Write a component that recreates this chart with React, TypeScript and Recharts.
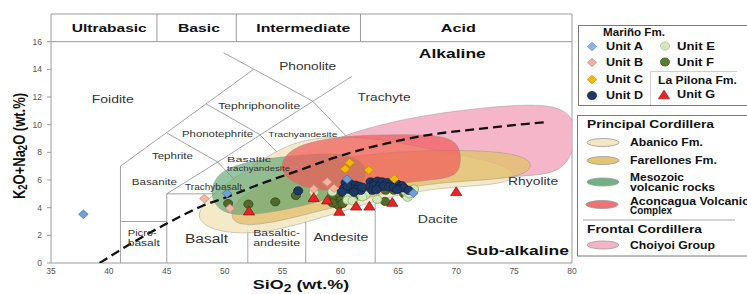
import React from 'react';
import { ComposedChart, XAxis, YAxis, Scatter, ReferenceLine, ReferenceArea } from 'recharts';

const FONT = '"Liberation Sans", Arial, Helvetica, sans-serif';

// ---------- axes ----------
const X_TICKS = [35, 40, 45, 50, 55, 60, 65, 70, 75, 80];
const Y_TICKS = [0, 2, 4, 6, 8, 10, 12, 14, 16];

// ---------- samples (SiO2, K2O+Na2O) ----------
const unitA = [[37.8, 3.52], [50.2, 5.03], [60.58, 6.06], [66.3, 5.05]];
const unitB = [[48.25, 4.66], [50.45, 3.95], [57.7, 5.35], [58.85, 5.85], [59.45, 5.4]];
const unitC = [[60.8, 7.25], [60.4, 6.8], [62.45, 6.72], [64.65, 6.08]];
const unitD = [
  [56.35, 5.22], [60.45, 5.8], [60.87, 5.72], [61.3, 5.63], [61.6, 5.55], [60.3, 5.4], [60.75, 5.32],
  [61.05, 5.35], [61.45, 5.3], [61.75, 5.25], [60.15, 5.15], [61.15, 5.12], [60.6, 5.55], [61.9, 5.48],
  [62.6, 5.87], [62.95, 5.8], [63.2, 5.92], [63.6, 5.87], [64.05, 5.82], [64.48, 5.77], [64.9, 5.7],
  [65.3, 5.6], [62.6, 5.5], [62.9, 5.58], [63.35, 5.5], [63.75, 5.55], [64.2, 5.5], [64.6, 5.45],
  [65.05, 5.4], [65.5, 5.42], [65.9, 5.25], [62.75, 5.25], [64.9, 5.3], [63.1, 5.3],
];
const unitE = [
  [57.7, 5.12], [59.3, 5.15], [60.3, 5.25], [60.7, 4.92], [61.75, 5.02], [62.15, 4.9], [60.6, 4.55],
  [61.05, 4.5], [61.9, 4.78], [63.18, 4.6], [65.65, 5.15], [66.05, 5.28], [66.35, 5.35], [65.8, 4.75], [65.95, 5.0],
];
const unitF = [
  [50.3, 4.3], [52.05, 4.25], [54.37, 4.42], [56.15, 4.88], [59.3, 5.0], [59.45, 4.78], [59.85, 5.02],
  [60.3, 5.12], [60.72, 4.9], [61.16, 4.78], [60.43, 4.66], [60.0, 4.52], [59.57, 4.3], [59.85, 4.15],
  [59.3, 4.35], [60.2, 4.3], [62.6, 5.33], [63.9, 5.26], [64.62, 5.26], [65.5, 5.0], [63.85, 4.45],
];
const unitG = [[52.1, 3.75], [57.69, 4.72], [58.85, 4.54], [59.9, 3.72], [61.35, 4.1], [62.5, 4.1], [64.48, 4.37], [70.0, 5.15]];

// ---------- compositional fields (outline control points) ----------
const choiyoi = [[58.5, 8.6], [61.5, 9.6], [67, 10.7], [73, 11.3], [78, 11.55], [80.3, 10.7], [80.3, 8.2], [79, 6.5], [76, 6.3], [70, 5.9], [63.5, 5.5], [57, 6.0], [55.5, 7.3]];
const abanico = [[47.2, 3.3], [48.9, 5.0], [51.3, 6.4], [54, 7.9], [56.5, 8.9], [60, 9.2], [64, 8.9], [68, 8.2], [73, 7.4], [75.3, 6.6], [74.6, 5.7], [69.5, 5.5], [65, 5.0], [60.8, 3.9], [56.5, 2.8], [53, 2.1], [49.2, 2.2]];
const farellones = [[50.3, 2.8], [50.8, 4.6], [53.8, 5.9], [58, 7.3], [63.5, 8.0], [69.5, 8.2], [75.3, 8.0], [76.9, 7.1], [75.5, 6.1], [69.5, 5.9], [65, 5.4], [60.8, 4.3], [56.5, 3.4], [53, 2.7]];
const mesozoic = [[48.6, 5.2], [49.6, 6.8], [53, 7.5], [56.5, 7.8], [60, 8.0], [62.3, 7.3], [62.2, 5.6], [59.3, 4.7], [55.7, 3.9], [52, 3.4], [49.5, 3.6]];
const aconcagua = [[54.8, 7.3], [56, 8.5], [60, 9.2], [65, 9.3], [69, 9.25], [70.4, 8.5], [70.4, 6.8], [69.6, 6.1], [66, 5.9], [61.5, 5.2], [57.5, 5.2], [55, 6.2]];

// alkaline / sub-alkaline divide
const alkalineDivide = [[39.2, 0], [42, 1.45], [45, 2.85], [48, 4.1], [50.3, 4.8], [53.2, 5.75], [56.1, 6.6], [60, 7.75], [63, 8.45], [67.2, 9.2], [72, 9.7], [77.9, 10.2]];

// TAS boundaries
const tasSegments = [
  [[41, 0], [41, 7]], [[41, 7], [52.5, 14]], [[49.9, 15.2], [57.6, 11.7]], [[41, 3], [45, 3]],
  [[45, 0], [45, 5]], [[45, 5], [49.4, 7.3]], [[49.4, 7.3], [61, 13.5]], [[45, 9.4], [49.4, 7.3]],
  [[49.4, 7.3], [52, 5]], [[48.4, 11.5], [53, 9.3]], [[53, 9.3], [57, 5.9]], [[57.6, 11.7], [63, 7]],
  [[45, 5], [52, 5]], [[52, 5], [57, 5.9]], [[57, 5.9], [63, 7]], [[63, 7], [69, 8]],
  [[52, 0], [52, 5]], [[57, 0], [57, 5.9]], [[63, 0], [63, 7]],
];
const headerDividers = [44.15, 51.0, 61.73];

// ---------- text annotations ----------
const headerNames = [
  { x: 40.03, y: 17.0, text: 'Ultrabasic' }, { x: 47.78, y: 17.0, text: 'Basic' },
  { x: 56.79, y: 17.0, text: 'Intermediate' }, { x: 70.18, y: 17.0, text: 'Acid' },
];
const fieldNames = [
  { x: 40.33, y: 11.85, text: 'Foidite' }, { x: 57.17, y: 14.24, text: 'Phonolite' },
  { x: 52.98, y: 11.42, text: 'Tephriphonolite' }, { x: 63.77, y: 12.0, text: 'Trachyte' },
  { x: 69.66, y: 15.11, text: 'Alkaline' }, { x: 49.38, y: 9.39, text: 'Phonotephrite' },
  { x: 56.75, y: 9.28, text: 'Trachyandesite' }, { x: 45.49, y: 7.76, text: 'Tephrite' },
  { x: 50.21, y: 7.48, text: 'Basaltic' }, { x: 50.21, y: 6.84, text: 'trachyandesite' },
  { x: 43.93, y: 5.92, text: 'Basanite' }, { x: 49.04, y: 5.48, text: 'Trachybasalt' },
  { x: 41.63, y: 2.18, text: 'Picro-' }, { x: 41.63, y: 1.48, text: 'basalt' },
  { x: 48.43, y: 1.72, text: 'Basalt' }, { x: 52.46, y: 2.18, text: 'Basaltic-' },
  { x: 52.46, y: 1.48, text: 'andesite' }, { x: 60.04, y: 1.86, text: 'Andesite' },
  { x: 68.41, y: 3.16, text: 'Dacite' }, { x: 76.64, y: 5.92, text: 'Rhyolite' },
  { x: 75.29, y: 0.85, text: 'Sub-alkaline' },
];

const LABEL_STYLE: Record<string, { size: number; len: number; bold?: boolean; start?: boolean }> = {
  Ultrabasic: { size: 11.5, len: 75, bold: true }, Basic: { size: 11.5, len: 42, bold: true },
  Intermediate: { size: 11.5, len: 94, bold: true }, Acid: { size: 11.5, len: 35, bold: true },
  Foidite: { size: 10, len: 42 }, Phonolite: { size: 10, len: 57 }, Tephriphonolite: { size: 9.5, len: 82 },
  Trachyte: { size: 10, len: 53 }, Alkaline: { size: 12.5, len: 67, bold: true },
  Phonotephrite: { size: 9.5, len: 71 }, Trachyandesite: { size: 8, len: 69 }, Tephrite: { size: 9.5, len: 41 },
  Basaltic: { size: 8, len: 44, start: true }, trachyandesite: { size: 8, len: 63, start: true },
  Basanite: { size: 9.5, len: 45 }, Trachybasalt: { size: 8.5, len: 57 },
  'Picro-': { size: 8.5, len: 29, start: true }, basalt: { size: 8.5, len: 32, start: true },
  Basalt: { size: 12, len: 43 }, 'Basaltic-': { size: 9, len: 47, start: true },
  andesite: { size: 9, len: 47, start: true }, Andesite: { size: 10, len: 55 }, Dacite: { size: 10, len: 40 },
  Rhyolite: { size: 10, len: 50 }, 'Sub-alkaline': { size: 12.5, len: 103, bold: true },
};

const pts = (a: number[][]) => a.map(([x, y]) => ({ x, y }));

const Hidden = () => <g />;

const TextShape = (p: any) => {
  const t = p.payload.text as string;
  const s = LABEL_STYLE[t];
  return (
    <text x={p.cx} y={p.cy} textAnchor={s.start ? 'start' : 'middle'} dominantBaseline="central"
      fontSize={s.size} fontWeight={s.bold ? 700 : 400} fill={s.bold ? '#111' : '#333'} fontFamily={FONT}
      textLength={s.len} lengthAdjust="spacingAndGlyphs">{t}</text>
  );
};

const diamond = (fill: string, stroke: string) => (p: any) => (
  <path d={`M${p.cx},${p.cy - 4.3} L${p.cx + 4.8},${p.cy} L${p.cx},${p.cy + 4.3} L${p.cx - 4.8},${p.cy} Z`} fill={fill} stroke={stroke} strokeWidth={0.7} />
);
const circle = (fill: string, stroke: string) => (p: any) => (
  <ellipse cx={p.cx} cy={p.cy} rx={4.6} ry={4.1} fill={fill} stroke={stroke} strokeWidth={0.7} />
);
const triangle = (fill: string, stroke: string) => (p: any) => (
  <path d={`M${p.cx},${p.cy - 5} L${p.cx + 5.6},${p.cy + 3.8} L${p.cx - 5.6},${p.cy + 3.8} Z`} fill={fill} stroke={stroke} strokeWidth={0.7} />
);

const C = {
  A: ['#6f9fd8', '#46719f'], B: ['#f2b5a2', '#c48b78'], C: ['#f6b800', '#b88a00'], D: ['#1d3864', '#101f3b'],
  E: ['#d2e8b9', '#86a46e'], F: ['#4f6a2a', '#2f4218'], G: ['#e82323', '#8a1010'],
};

const field = (data: number[][], fill: string, opacity: number) => (
  <Scatter data={pts(data)} isAnimationActive={false} shape={Hidden} lineJointType="basisClosed"
    line={{ fill, fillOpacity: opacity, stroke: '#8a8a8a', strokeOpacity: 0.6, strokeWidth: 0.7 }} />
);

const LT = ({ x, y, t, len, size = 10, bold = true }: any) => (
  <text x={x} y={y} dominantBaseline="central" fontSize={size} fontWeight={bold ? 700 : 400} fontFamily={FONT}
    fill="#111" textLength={len} lengthAdjust="spacingAndGlyphs">{t}</text>
);

const Overlay = () => (
  <svg width={747} height={294} style={{ position: 'absolute', left: 0, top: 0, pointerEvents: 'none' }}>
    {/* axis titles */}
    <text transform="translate(19,146) rotate(-90) scale(1,1.25)" textAnchor="middle" dominantBaseline="central" fontSize={13} fontWeight={700} fontFamily={FONT} fill="#111">
      <tspan>K</tspan><tspan fontSize={9.5} dy={3}>2</tspan><tspan dy={-3}>O+Na</tspan><tspan fontSize={9.5} dy={3}>2</tspan><tspan dy={-3}>O (wt.%)</tspan>
    </text>
    <text transform="translate(301,289) scale(1.38,1)" textAnchor="middle" fontSize={13} fontWeight={700} fontFamily={FONT} fill="#111">
      <tspan>SiO</tspan><tspan fontSize={10} dy={3}>2</tspan><tspan dy={-3}> (wt.%)</tspan>
    </text>

    {/* legend 1 */}
    <rect x={578.5} y={25.5} width={200} height={80} fill="#fff" stroke="#7a7a7a" />
    <line x1={650.5} y1={71} x2={650.5} y2={105} stroke="#cfcfcf" />
    <line x1={650.5} y1={71.5} x2={737} y2={71.5} stroke="#cfcfcf" />
    <LT x={603} y={32} t="Mariño Fm." len={62} size={11} />
    {diamond('#8db4e2', '#6f93c0')({ cx: 592, cy: 46.5 })}
    <LT x={606} y={46.5} t="Unit A" len={37} />
    {circle('#d2e8b9', '#a9c495')({ cx: 665, cy: 46 })}
    <LT x={677} y={46} t="Unit E" len={38} />
    {diamond('#eab3aa', '#c99a91')({ cx: 592, cy: 62.5 })}
    <LT x={606} y={62.5} t="Unit B" len={37} />
    {circle('#5a7d2e', '#3d5a1c')({ cx: 665, cy: 62 })}
    <LT x={677} y={62} t="Unit F" len={37} />
    {diamond('#f6b800', '#c99500')({ cx: 592, cy: 79.5 })}
    <LT x={606} y={79.5} t="Unit C" len={37} />
    <LT x={658} y={79.5} t="La Pilona Fm." len={79} size={10.5} />
    {circle('#1d3864', '#101f3b')({ cx: 592, cy: 95.5 })}
    <LT x={606} y={95.5} t="Unit D" len={37} />
    {triangle('#e82323', '#b01515')({ cx: 664, cy: 95 })}
    <LT x={677} y={94.5} t="Unit G" len={38} />

    {/* legend 2 */}
    <rect x={577.5} y={115.5} width={200} height={140.5} fill="#fff" stroke="#7a7a7a" />
    <LT x={587} y={123.5} t="Principal Cordillera" len={127} size={10.5} />
    <ellipse cx={603} cy={142.5} rx={16} ry={4} fill="#f3e8c2" stroke="#999" strokeWidth={0.8} />
    <LT x={630} y={142.5} t="Abanico Fm." len={73} />
    <ellipse cx={603} cy={160.5} rx={16} ry={4} fill="#e3c675" stroke="#999" strokeWidth={0.8} />
    <LT x={630} y={160} t="Farellones Fm." len={87} />
    <ellipse cx={603} cy={182} rx={16} ry={4} fill="#72b184" stroke="#999" strokeWidth={0.8} />
    <LT x={630} y={177.3} t="Mesozoic" len={54} />
    <LT x={630} y={187.5} t="volcanic rocks" len={85} />
    <ellipse cx={602} cy={204.5} rx={16} ry={4} fill="#f17272" stroke="#999" strokeWidth={0.8} />
    <LT x={630} y={201} t="Aconcagua Volcanic" len={119} />
    <LT x={630} y={210.5} t="Complex" len={42} />
    <line x1={583} y1={220} x2={735} y2={220} stroke="#c4c4c4" strokeWidth={1.5} />
    <LT x={587} y={228.5} t="Frontal Cordillera" len={115} size={10.5} />
    <ellipse cx={603} cy={245} rx={16} ry={4} fill="#f4b3c6" stroke="#999" strokeWidth={0.8} />
    <LT x={630} y={245} t="Choiyoi Group" len={85} />
  </svg>
);

export default function App() {
  return (
    <div style={{ position: 'fixed', left: 0, top: 0, width: 747, height: 294, background: '#fff' }}>
      <ComposedChart width={747} height={294} margin={{ top: 14, right: 175, bottom: 0, left: 0 }}>
        <XAxis type="number" dataKey="x" domain={[35, 80]} ticks={X_TICKS} allowDataOverflow height={31}
          axisLine={false} tickLine={false} tickSize={0} tickMargin={5}
          tick={{ fontSize: 8.5, fill: '#555', fontFamily: FONT }} />
        <YAxis type="number" dataKey="y" domain={[0, 18]} ticks={Y_TICKS} allowDataOverflow width={51}
          axisLine={false} tickLine={{ stroke: '#999' }} tickSize={4} tickMargin={5}
          tick={{ fontSize: 8.5, fill: '#555', fontFamily: FONT }} />

        {field(choiyoi, '#f4a9bf', 0.85)}
        {field(abanico, '#f3e8c2', 0.9)}
        {field(farellones, '#e2c070', 0.8)}
        {field(mesozoic, '#5fa571', 0.65)}
        {field(aconcagua, '#f05a5a', 0.7)}

        {tasSegments.map((s, i) => (
          <ReferenceLine key={`s${i}`} segment={[{ x: s[0][0], y: s[0][1] }, { x: s[1][0], y: s[1][1] }]}
            stroke="#8c8c8c" strokeWidth={0.8} ifOverflow="visible" />
        ))}
        <ReferenceLine y={16} stroke="#9a9a9a" strokeWidth={1} />
        {headerDividers.map((x, i) => (
          <ReferenceLine key={`h${i}`} segment={[{ x, y: 16 }, { x, y: 18 }]} stroke="#9a9a9a" strokeWidth={1} ifOverflow="visible" />
        ))}
        <ReferenceArea x1={35} x2={80} y1={0} y2={18} fill="none" stroke="#9a9a9a" strokeWidth={1} ifOverflow="visible" />

        <Scatter data={pts(alkalineDivide)} isAnimationActive={false} shape={Hidden} lineJointType="monotoneX"
          line={{ stroke: '#111', strokeWidth: 2.3, strokeDasharray: '9 5', fill: 'none' }} />

        <Scatter data={headerNames} isAnimationActive={false} shape={TextShape} />
        <Scatter data={fieldNames} isAnimationActive={false} shape={TextShape} />

        <Scatter data={pts(unitF)} isAnimationActive={false} shape={circle(C.F[0], C.F[1])} />
        <Scatter data={pts(unitE)} isAnimationActive={false} shape={circle(C.E[0], C.E[1])} />
        <Scatter data={pts(unitD)} isAnimationActive={false} shape={circle(C.D[0], C.D[1])} />
        <Scatter data={pts(unitB)} isAnimationActive={false} shape={diamond(C.B[0], C.B[1])} />
        <Scatter data={pts(unitA)} isAnimationActive={false} shape={diamond(C.A[0], C.A[1])} />
        <Scatter data={pts(unitC)} isAnimationActive={false} shape={diamond(C.C[0], C.C[1])} />
        <Scatter data={pts(unitG)} isAnimationActive={false} shape={triangle(C.G[0], C.G[1])} />
      </ComposedChart>
      <Overlay />
    </div>
  );
}
